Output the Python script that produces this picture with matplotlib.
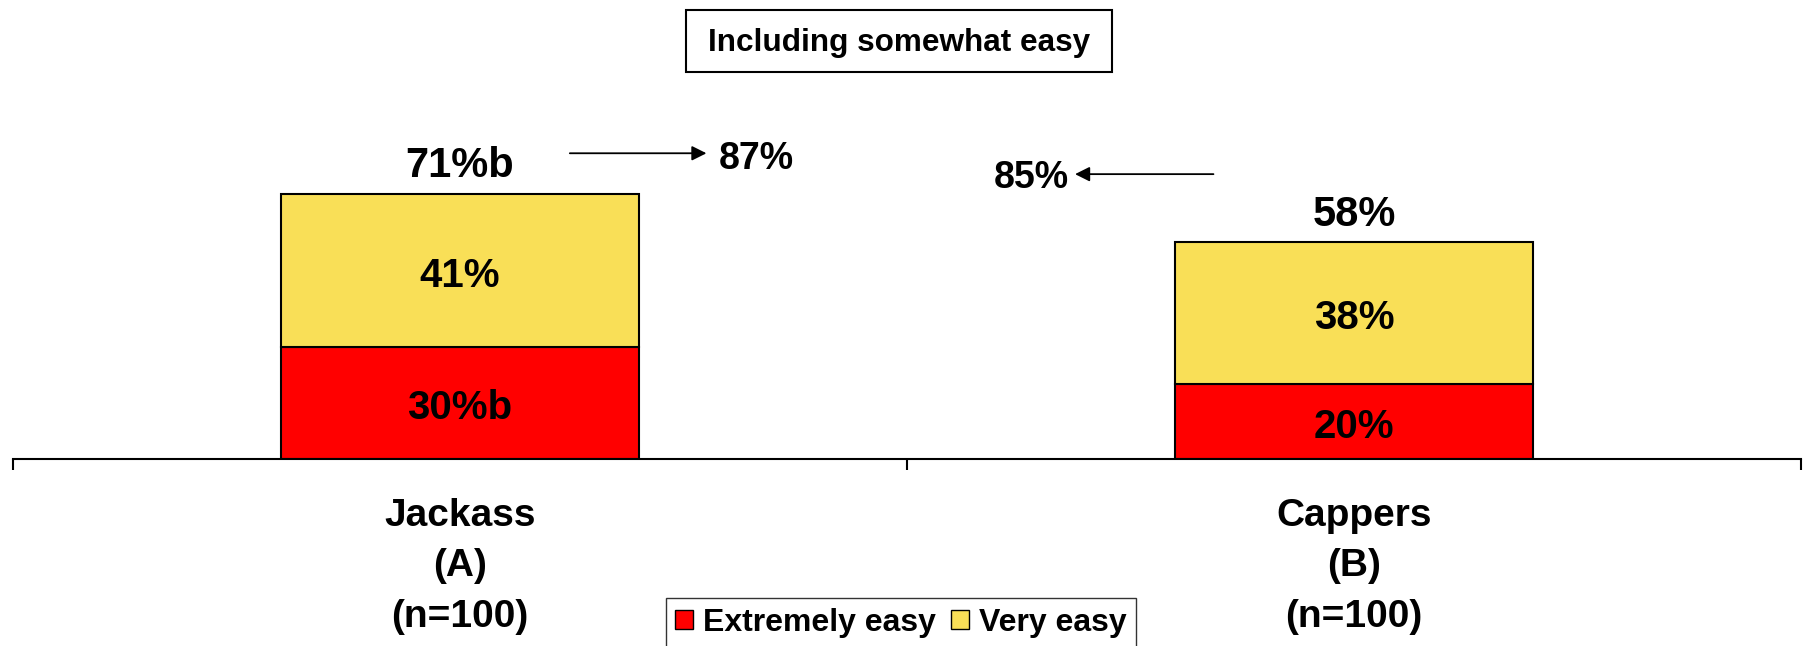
import matplotlib.pyplot as plt
from matplotlib.patches import Patch, Rectangle

plt.rcParams['font.family'] = ['Liberation Sans', 'DejaVu Sans']
plt.rcParams['font.weight'] = 'bold'

# data
names = ["Jackass", "Cappers"]
codes = ["(A)", "(B)"]
sample = ["(n=100)", "(n=100)"]
extremely = [30, 20]
very = [41, 38]
extremely_lbl = ["30%b", "20%"]
very_lbl = ["41%", "38%"]
total_lbl = ["71%b", "58%"]
incl_somewhat = [87, 85]

red = '#FF0000'
yellow = '#F9DF57'

fig = plt.figure(figsize=(18.07, 6.46), dpi=100)
ax = fig.add_axes([0.007, 0.29, 0.9897, 0.71])

x = list(range(len(names)))
w = 0.4
ax.bar(x, extremely, w, color=red, edgecolor='black', linewidth=1.5, label='Extremely easy')
ax.bar(x, very, w, bottom=extremely, color=yellow, edgecolor='black', linewidth=1.5, label='Very easy')

for i in x:
    tot = extremely[i] + very[i]
    ax.text(i, extremely[i] / 2 - 1.4, extremely_lbl[i], ha='center', va='center', fontsize=29)
    ax.text(i, extremely[i] + very[i] / 2 - 1.4, very_lbl[i], ha='center', va='center', fontsize=29)
    ax.text(i, tot + 7.4, total_lbl[i], ha='center', va='center', fontsize=30)
    # category labels under the axis
    ax.text(i, -15.4, names[i], ha='center', va='center', fontsize=28)
    ax.text(i, -28.7, codes[i], ha='center', va='center', fontsize=28)
    ax.text(i, -42.4, sample[i], ha='center', va='center', fontsize=28)

# "including somewhat easy" arrows
ax.annotate('', xy=(0.279, 81.9), xytext=(0.12, 81.9),
            arrowprops=dict(arrowstyle='-|>', color='black', lw=1.3, mutation_scale=22))
ax.text(0.332, 80.3, f"{incl_somewhat[0]}%", ha='center', va='center', fontsize=27)
ax.annotate('', xy=(0.685, 76.3), xytext=(0.846, 76.3),
            arrowprops=dict(arrowstyle='-|>', color='black', lw=1.3, mutation_scale=22))
ax.text(0.639, 75.2, f"{incl_somewhat[1]}%", ha='center', va='center', fontsize=27)

ax.set_xlim(-0.5, 1.5)
ax.set_ylim(0, 123)
for s in ['top', 'right', 'left']:
    ax.spines[s].set_visible(False)
ax.spines['bottom'].set_linewidth(1.5)
ax.set_yticks([])
ax.set_xticks([-0.5, 0.5, 1.5])
ax.set_xticklabels([])
ax.tick_params(axis='x', direction='out', length=8, width=1.5)

# boxed heading
fig.patches.append(Rectangle((686 / 1807, 1 - 71.5 / 646), 426 / 1807, 61.5 / 646,
                             transform=fig.transFigure, fill=False, edgecolor='black', linewidth=1.5))
fig.text(0.4975, 1 - 43 / 646, "Including somewhat easy", ha='center', va='center', fontsize=22.7)

handles = [Patch(facecolor=red, edgecolor='black'), Patch(facecolor=yellow, edgecolor='black')]
fig.legend(handles, ['Extremely easy', 'Very easy'], loc='upper center',
           bbox_to_anchor=(0.4985, 1 - 598 / 646), ncol=2, fontsize=23, frameon=True,
           fancybox=False, edgecolor='black', handlelength=0.55, handleheight=0.55,
           handletextpad=0.3, columnspacing=0.5, borderpad=0.3, borderaxespad=0)

fig.savefig('out.png', dpi=100)
